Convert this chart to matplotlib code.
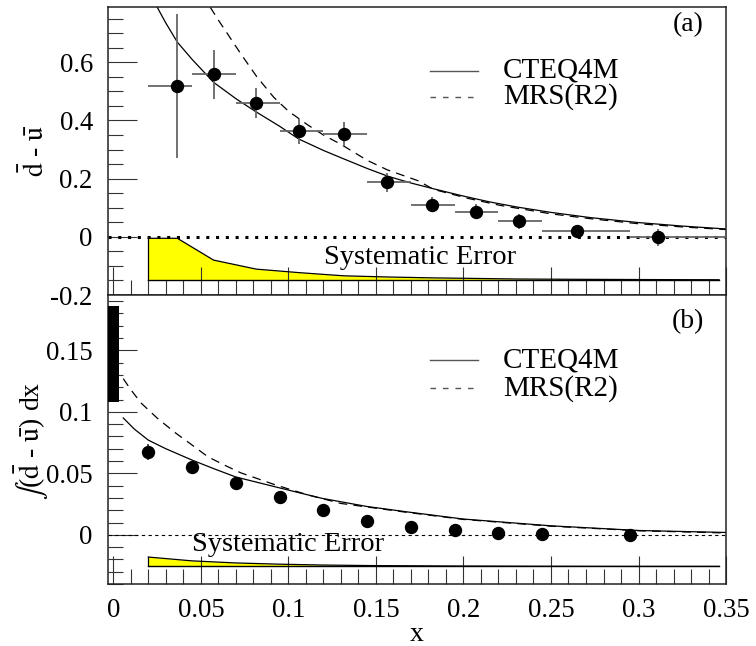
import matplotlib
matplotlib.use("Agg")
import matplotlib.pyplot as plt
from matplotlib.ticker import MultipleLocator, FormatStrFormatter
import numpy as np

plt.rcParams["font.family"] = ["Liberation Serif", "DejaVu Serif"]
plt.rcParams["mathtext.fontset"] = "stix"
plt.rcParams["axes.unicode_minus"] = False

FS = 19.3

# ---- (a) dbar - ubar per x bin ----
bin_edges = [0.02, 0.045, 0.07, 0.095, 0.12, 0.145, 0.17, 0.195, 0.22, 0.245, 0.295, 0.35]
x_a = [0.0366, 0.0573, 0.0817, 0.106, 0.1317, 0.1566, 0.182, 0.207, 0.2317, 0.2646, 0.311]
y_a = [0.518, 0.559, 0.459, 0.363, 0.353, 0.187, 0.111, 0.087, 0.054, 0.019, -0.002]
yerr_a = [0.247, 0.084, 0.051, 0.043, 0.040, 0.032, 0.027, 0.026, 0.026, 0.017, 0.029]

syst_x_a = [0.02, 0.0366, 0.0573, 0.0817, 0.106, 0.1317, 0.1566, 0.182, 0.207, 0.2317, 0.2646, 0.311, 0.346]
syst_a = [0.143, 0.143, 0.068, 0.037, 0.025, 0.014, 0.010, 0.007, 0.005, 0.003, 0.002, 0.001, 0.0005]

cteq_x_a = [0.0251, 0.03, 0.0366, 0.045, 0.0573, 0.07, 0.0817, 0.095, 0.106, 0.12, 0.13,
            0.145, 0.157, 0.17, 0.183, 0.2, 0.215, 0.23, 0.25, 0.2726, 0.30, 0.325, 0.35]
cteq_a = [0.789, 0.735, 0.669, 0.61, 0.531, 0.475, 0.429, 0.38, 0.336, 0.297, 0.272,
          0.235, 0.208, 0.185, 0.165, 0.14, 0.12, 0.103, 0.084, 0.066, 0.049, 0.037, 0.027]
mrs_x_a = [0.0554, 0.06, 0.065, 0.0726, 0.082, 0.0916, 0.10, 0.111, 0.12, 0.13, 0.145,
           0.1566, 0.174, 0.183, 0.202, 0.221, 0.25, 0.273, 0.30, 0.325, 0.35]
mrs_a = [0.789, 0.745, 0.70, 0.631, 0.55, 0.48, 0.432, 0.385, 0.35, 0.318, 0.263,
         0.23, 0.193, 0.163, 0.133, 0.108, 0.079, 0.062, 0.045, 0.034, 0.025]

# ---- (b) integral of dbar - ubar from x to 0.35 ----
x_b = [0.02, 0.045, 0.07, 0.095, 0.12, 0.145, 0.17, 0.195, 0.22, 0.245, 0.295]
y_b = [0.067, 0.055, 0.042, 0.031, 0.0205, 0.0115, 0.0066, 0.0041, 0.0017, 0.0008, 0.0]
yerr_b = [0.0065, 0.003, 0.002, 0.0015, 0.0012, 0.001, 0.0008, 0.0006, 0.0005, 0.0004, 0.0003]

syst_x_b = [0.02, 0.045, 0.07, 0.095, 0.12, 0.145, 0.17, 0.195, 0.22, 0.245, 0.295, 0.346]
syst_b = [0.0076, 0.0045, 0.0028, 0.0018, 0.0011, 0.0007, 0.0005, 0.0003, 0.0002, 0.0001, 0.0, 0.0]

cteq_x_b = [0.0057, 0.012, 0.02, 0.03, 0.0446, 0.057, 0.07, 0.0954, 0.119, 0.145, 0.168, 0.2, 0.25, 0.3, 0.35]
cteq_b = [0.095, 0.086, 0.077, 0.070, 0.061, 0.054, 0.047, 0.038, 0.0297, 0.023, 0.0186, 0.0128, 0.0073, 0.0035, 0.0019]
mrs_x_b = [0.0057, 0.01, 0.016, 0.025, 0.0354, 0.045, 0.054, 0.063, 0.073, 0.0926, 0.111, 0.13, 0.168, 0.2, 0.25, 0.3, 0.35]
mrs_b = [0.127, 0.118, 0.107, 0.095, 0.083, 0.073, 0.0635, 0.057, 0.0503, 0.0406, 0.0325, 0.0255, 0.0182, 0.0125, 0.007, 0.0033, 0.0015]

# NMC integral value shown as a bar at x = 0
nmc_value = 0.147
nmc_err = 0.039

syst_base_a = -0.148
syst_base_b = -0.0257


def style_axes(ax, ymajor, yminor):
    ax.set_xlim(-0.003, 0.35)
    ax.xaxis.set_major_locator(MultipleLocator(0.05))
    ax.xaxis.set_minor_locator(MultipleLocator(0.01))
    ax.yaxis.set_major_locator(MultipleLocator(ymajor))
    ax.yaxis.set_minor_locator(MultipleLocator(yminor))
    ax.xaxis.set_major_formatter(FormatStrFormatter("%g"))
    ax.yaxis.set_major_formatter(FormatStrFormatter("%g"))
    ax.tick_params(which="both", direction="in", top=False, right=False,
                   labelsize=FS, width=0.8, color="#333333")
    ax.tick_params(axis="y", which="major", length=21, pad=11)
    ax.tick_params(axis="y", which="minor", length=11)
    ax.tick_params(axis="x", which="major", length=20, pad=10)
    ax.tick_params(axis="x", which="minor", length=11)
    for sp in ax.spines.values():
        sp.set_linewidth(1.1)
        sp.set_color("#222222")


def draw_legend(ax, y1, y2):
    ax.plot([0.521, 0.599], [y1, y1], color="#555555", lw=1.0, transform=ax.transAxes)
    ax.plot([0.521, 0.599], [y2, y2], color="#555555", lw=1.0, ls=(0, (4, 5)),
            transform=ax.transAxes)
    ax.text(0.639, y1, "CTEQ4M", fontsize=21, va="center", transform=ax.transAxes)
    ax.text(0.639, y2, "MRS(R2)", fontsize=21, va="center", transform=ax.transAxes)


fig = plt.figure(figsize=(7.56, 6.46), dpi=100)
ax_a = fig.add_axes([0.1429, 0.5433, 0.8175, 0.4459])
ax_b = fig.add_axes([0.1429, 0.0960, 0.8175, 0.4473])

# panel (a)
style_axes(ax_a, 0.2, 0.05)
ax_a.set_ylim(-0.2, 0.79)
ax_a.tick_params(labelbottom=False)

sa = np.array(syst_a)
ax_a.fill_between(syst_x_a, syst_base_a, syst_base_a + sa, color="#ffff00", lw=0)
ax_a.plot(syst_x_a, syst_base_a + sa, color="black", lw=0.9)
ax_a.plot([syst_x_a[0], syst_x_a[0]], [syst_base_a, syst_base_a + sa[0]], color="black", lw=0.9)
ax_a.plot([syst_x_a[0], syst_x_a[-1]], [syst_base_a, syst_base_a], color="black", lw=1.0)
ax_a.text(0.175, -0.07, "Systematic Error", fontsize=20.5, ha="center", va="center")

ax_a.axhline(0, color="black", lw=2.2, ls=(0, (1, 2.2)))

xa = np.array(x_a)
edges = np.array(bin_edges)
xerr_a = [xa - edges[:-1], edges[1:] - xa]
ax_a.errorbar(x_a, y_a, xerr=xerr_a, yerr=yerr_a, fmt="o", color="black", ms=8.6,
              ecolor="#666666", elinewidth=1.3, capsize=0, zorder=3)
ax_a.plot(cteq_x_a, cteq_a, color="black", lw=0.9)
ax_a.plot(mrs_x_a, mrs_a, color="black", lw=0.9, ls=(0, (7, 5)))

draw_legend(ax_a, 0.778, 0.688)
ax_a.text(0.9385, 0.9375, "(a)", fontsize=20, ha="center", va="center", transform=ax_a.transAxes)
ax_a.set_ylabel(r"$\bar{\mathrm{d}}$ - $\bar{\mathrm{u}}$", fontsize=20, va="center")
ax_a.yaxis.set_label_coords(-0.118, 0.5)

# panel (b)
style_axes(ax_b, 0.05, 0.01)
ax_b.set_ylim(-0.04, 0.195)

sb = np.array(syst_b)
ax_b.fill_between(syst_x_b, syst_base_b, syst_base_b + sb, color="#ffff00", lw=0)
ax_b.plot(syst_x_b, syst_base_b + sb, color="black", lw=0.9)
ax_b.plot([syst_x_b[0], syst_x_b[0]], [syst_base_b, syst_base_b + sb[0]], color="black", lw=0.9)
ax_b.plot([syst_x_b[0], syst_x_b[-1]], [syst_base_b, syst_base_b], color="black", lw=1.0)
ax_b.text(0.0997, -0.0081, "Systematic Error", fontsize=20.5, ha="center", va="center")

ax_b.axhline(0, color="black", lw=0.8, ls=(0, (3, 3)))

ax_b.bar([0.0], [2 * nmc_err], bottom=nmc_value - nmc_err, width=0.006, color="black", zorder=3)

ax_b.errorbar(x_b, y_b, yerr=yerr_b, fmt="o", color="black", ms=8.6,
              ecolor="#444444", elinewidth=1.3, capsize=0, zorder=3)
ax_b.plot(cteq_x_b, cteq_b, color="black", lw=0.9)
ax_b.plot(mrs_x_b, mrs_b, color="black", lw=0.9, ls=(0, (7, 5)))

draw_legend(ax_b, 0.775, 0.678)
ax_b.text(0.9385, 0.9066, "(b)", fontsize=20, ha="center", va="center", transform=ax_b.transAxes)
ax_b.set_ylabel(r"$\int$($\bar{\mathrm{d}}$ - $\bar{\mathrm{u}}$) dx", fontsize=20, va="center")
ax_b.yaxis.set_label_coords(-0.123, 0.495)
ax_b.set_xlabel("x", fontsize=20, va="center")
ax_b.xaxis.set_label_coords(0.5, -0.176)

fig.savefig("out.png", dpi=100)
